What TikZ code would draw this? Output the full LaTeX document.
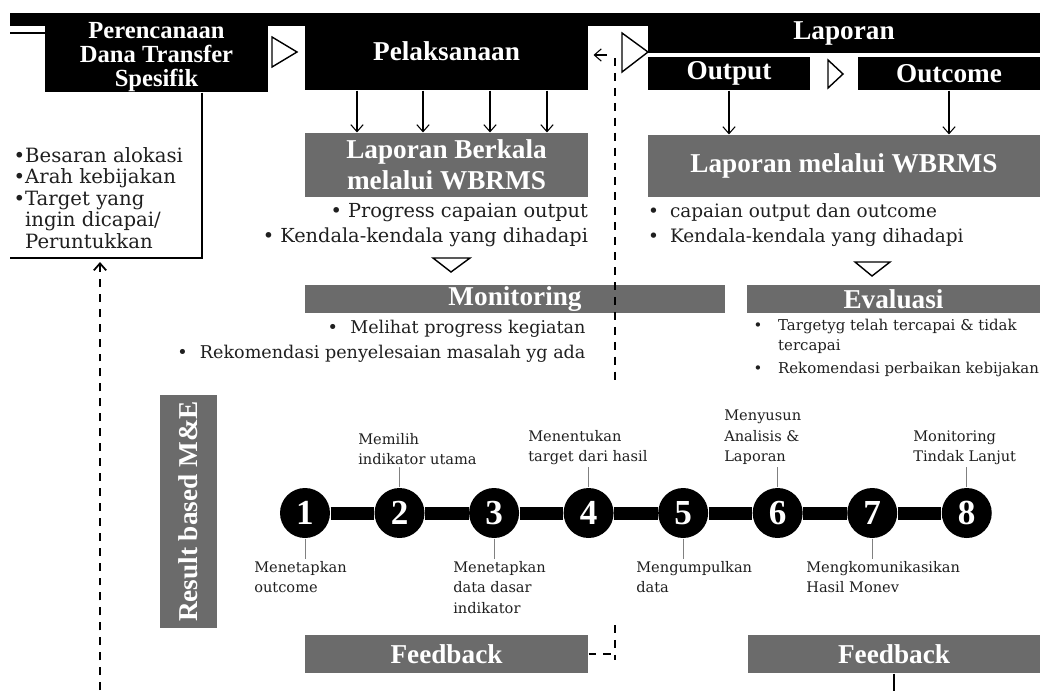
\documentclass[tikz,border=0pt]{standalone}
\usepackage{fontspec}
\setmainfont{DejaVu Serif}
\newfontfamily\judulfont{Liberation Serif}
\usetikzlibrary{positioning, arrows.meta}

\definecolor{abu}{gray}{0.42}
\definecolor{teks}{gray}{0.12}

\begin{document}
\begin{tikzpicture}[x=0.02cm, y=-0.02cm, >={Straight Barb[length=4pt, width=7pt]}, semithick,
        kotakhitam/.style={fill=black, text=white, inner sep=0pt, align=center,
            font=\judulfont\bfseries\fontsize{15.5}{17.5}\selectfont},
        kotakabu/.style={fill=abu, text=white, inner sep=0pt, align=center,
            font=\judulfont\bfseries\fontsize{15.5}{17.5}\selectfont},
        isi/.style={text=teks, inner sep=0pt, font=\fontsize{11}{14.5}\selectfont},
        tahap/.style={circle, fill=black, text=white, minimum size=1cm, inner sep=0pt,
            font=\judulfont\bfseries\fontsize{20}{20}\selectfont},
        ket/.style={text=teks, inner sep=1pt, align=left, font=\fontsize{8.3}{11.6}\selectfont},
        tangkai/.style={draw=gray, thin},
        segitiga/.style={draw, fill=white, line join=miter, thick},
        putus/.style={dash pattern=on 4.5pt off 4pt, line width=1pt}]

    \useasboundingbox (0,0) rectangle (1044,693);

    % --- Pita atas ---
    \fill (10,13) rectangle (1040,26);
    \fill (45,13) rectangle (268,30);
    \draw[thick] (10,33) -- (45,33);

    % --- Tahapan ---
    \node[kotakhitam, minimum width=4.46cm, minimum height=1.4cm,
        font=\judulfont\bfseries\fontsize{14}{13.9}\selectfont] (rencana) at (156.5,57)
        {Perencanaan\\Dana Transfer\\Spesifik};
    \node[kotakhitam, minimum width=5.66cm, minimum height=1.54cm] (laksana) at (446.5,51.5) {Pelaksanaan};
    \node[kotakhitam, minimum width=7.84cm, minimum height=0.8cm] (lapor) at (844,33) {Laporan};
    \node[kotakhitam, minimum width=3.24cm, minimum height=0.66cm] (output) at (729,73.5) {Output};
    \node[kotakhitam, minimum width=3.64cm, minimum height=0.66cm] (outcome) at (949,73.5) {Outcome};

    \draw[segitiga] (272,37) -- (272,67) -- (297,52) -- cycle;
    \draw[segitiga] (622,33) -- (622,72) -- (648,52) -- cycle;
    \draw[segitiga] (828,60) -- (828,88) -- (843,74) -- cycle;

    \coordinate (balik) at (607,55);
    \draw[->, shorten >=0.1cm] (balik) -- (balik -| laksana.east);

    % --- Laporan WBRMS ---
    \node[kotakabu, minimum width=5.66cm, minimum height=1.28cm] (berkala) at (446.5,165)
        {Laporan Berkala\\melalui WBRMS};
    \node[kotakabu, minimum width=7.84cm, minimum height=1.24cm] (wbrms) at (844,166)
        {Laporan melalui WBRMS};

    \foreach \x in {357,423,490,547}
        \draw[->] (laksana.south -| \x,0) -- (berkala.north -| \x,0);
    \draw[->] (output.south) -- (wbrms.north -| output.south);
    \draw[->] (outcome.south) -- (wbrms.north -| outcome.south);

    \node[isi, align=right, below=0.1cm of berkala.south east, anchor=north east] (catatanlaksana)
        {\textbullet{} Progress capaian output\\\textbullet{} Kendala-kendala yang dihadapi};
    \node[isi, align=left, below=0.1cm of wbrms.south west, anchor=north west,
        font=\fontsize{10.5}{14.5}\selectfont] (catatanlapor)
        {\textbullet\hspace{0.6em}capaian output dan outcome\\\textbullet\hspace{0.6em}Kendala-kendala yang dihadapi};

    \draw[segitiga] (433,258) -- (470,258) -- (451,272) -- cycle;
    \draw[segitiga] (855,262) -- (890,262) -- (872,276) -- cycle;

    % --- Catatan perencanaan ---
    \node[isi, align=left, anchor=north west, font=\fontsize{11.2}{12.2}\selectfont] (catatanrencana) at (13,147)
        {\textbullet Besaran alokasi\\\textbullet Arah kebijakan\\\textbullet Target yang\\
         \phantom{\textbullet}ingin dicapai/\\\phantom{\textbullet}Peruntukkan};
    \coordinate (sudut) at (10,258);
    \draw[thick] (rencana.south -| 202,0) |- (sudut);

    \coordinate (umpanbalik) at (100,690);
    \draw[putus, ->, shorten >=0.08cm] (umpanbalik) -- (umpanbalik |- sudut);

    % --- Monitoring & Evaluasi ---
    \node[kotakabu, minimum width=8.4cm, minimum height=0.56cm] (monitor) at (515,299) {Monitoring};
    \node[kotakabu, minimum width=5.86cm, minimum height=0.56cm] (evaluasi) at (893.5,299) {Evaluasi};

    \node[isi, align=right, anchor=north east, font=\fontsize{10}{14.2}\selectfont] (catatanmonitor) at (586,320)
        {\textbullet\hspace{0.7em}Melihat progress kegiatan\\
         \textbullet\hspace{0.7em}Rekomendasi penyelesaian masalah yg ada};
    \node[isi, anchor=north west, font=\fontsize{8.5}{11.3}\selectfont] (catatanevaluasi) at (753,316)
        {\begin{tabular}{@{}l@{\hspace{9pt}}l@{}}
            \textbullet & Targetyg telah tercapai \& tidak\\
                        & tercapai\\[2pt]
            \textbullet & Rekomendasi perbaikan kebijakan
         \end{tabular}};

    \coordinate (garisatas) at (615,58);
    \coordinate (garistengah) at (615,385);
    \draw[putus] (garisatas) -- (garistengah);

    % --- Result based M&E ---
    \node[kotakabu, rotate=90, minimum width=4.66cm, minimum height=1.14cm] (rbme) at (188.5,511.5)
        {Result based M\&E};

    \node[tahap] (s1) at (305,513) {1};
    \node[tahap, right=0.87cm of s1] (s2) {2};
    \node[tahap, right=0.87cm of s2] (s3) {3};
    \node[tahap, right=0.87cm of s3] (s4) {4};
    \node[tahap, right=0.87cm of s4] (s5) {5};
    \node[tahap, right=0.87cm of s5] (s6) {6};
    \node[tahap, right=0.87cm of s6] (s7) {7};
    \node[tahap, right=0.87cm of s7] (s8) {8};
    \draw[line width=0.26cm] (s1) -- (s2) -- (s3) -- (s4) -- (s5) -- (s6) -- (s7) -- (s8);

    \node[ket, anchor=north west] (k1) at (252,559) {Menetapkan\\outcome};
    \node[ket, anchor=south west] (k2) at (356,467) {Memilih\\indikator utama};
    \node[ket, anchor=north west] (k3) at (451,559) {Menetapkan\\data dasar\\indikator};
    \node[ket, anchor=south west] (k4) at (526,467) {Menentukan\\target dari hasil};
    \node[ket, anchor=north west] (k5) at (634,559) {Mengumpulkan\\data};
    \node[ket, anchor=south west] (k6) at (722,467) {Menyusun\\Analisis \&\\Laporan};
    \node[ket, anchor=north west] (k7) at (804,559) {Mengkomunikasikan\\Hasil Monev};
    \node[ket, anchor=south west] (k8) at (911,467) {Monitoring\\Tindak Lanjut};

    \draw[tangkai] (s1.south) -- (s1.south |- k1.north);
    \draw[tangkai] (s2.north) -- (s2.north |- k2.south);
    \draw[tangkai] (s3.south) -- (s3.south |- k3.north);
    \draw[tangkai] (s4.north) -- (s4.north |- k4.south);
    \draw[tangkai] (s5.south) -- (s5.south |- k5.north);
    \draw[tangkai] (s6.north) -- (s6.north |- k6.south);
    \draw[tangkai] (s7.south) -- (s7.south |- k7.north);
    \draw[tangkai] (s8.north) -- (s8.north |- k8.south);

    % --- Feedback ---
    \node[kotakabu, minimum width=5.66cm, minimum height=0.76cm] (fbkiri) at (446.5,654) {Feedback};
    \node[kotakabu, minimum width=5.84cm, minimum height=0.76cm] (fbkanan) at (894,654) {Feedback};

    \coordinate (garisbawah) at (615,625);
    \coordinate (garisujung) at (615,660);
    \draw[putus] (garisbawah) -- (garisujung);
    \draw[putus] (fbkiri.east) -- (fbkiri.east -| garisbawah);
    \coordinate (ujungkanan) at (894,691);
    \draw[thick] (fbkanan.south) -- (ujungkanan);

\end{tikzpicture}
\end{document}
